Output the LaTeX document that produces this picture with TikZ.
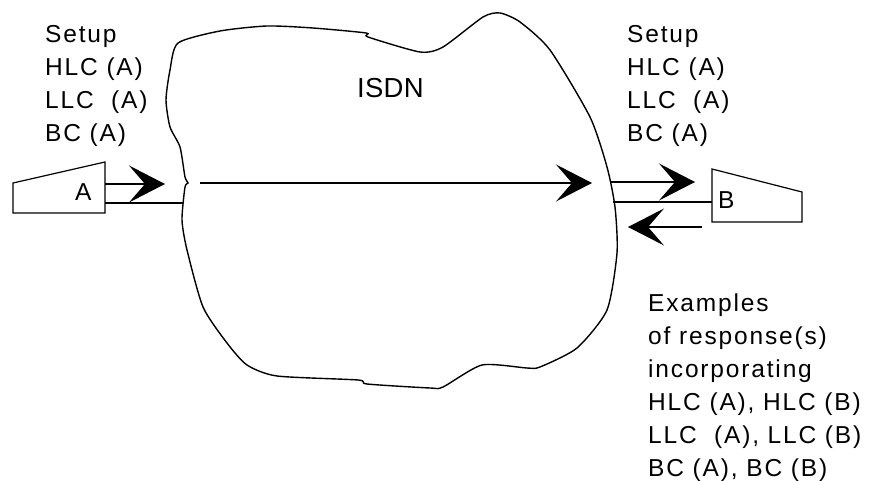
\documentclass[tikz,border=0pt]{standalone}
\usepackage{fontspec}
\setmainfont{Liberation Sans}[LetterSpace=7.5]
\usetikzlibrary{arrows.meta}

\tikzset{
  lbl/.style={font=\fontsize{24.5}{33}\selectfont, inner sep=0pt, align=left, anchor=north west},
  wire/.style={line width=1.2pt},
  arr/.style={wire, -{Stealth[length=36pt,width=37pt,inset=16pt]}}
}

\begin{document}
\begin{tikzpicture}[x=1pt, y=-1pt]
\useasboundingbox (0,0) rectangle (869,481);
% the network cloud
\draw[line width=1.4pt] plot[smooth cycle, tension=0.4] coordinates {
  (178,43) (220,31) (267,26) (313,28) (366,33) (368,37) (420,52) (443,47)
  (483,17) (500,13) (520,22) (550,50) (590,117) (607,167) (615,207) (617,253)
  (607,310) (577,348) (540,367) (527,368) (482,365) (443,387) (430,388)
  (367,384) (358,380) (277,376) (247,365) (227,343) (203,307) (187,250)
  (182,220) (185,187) (188,183) (185,177) (180,147) (170,127) (166,100) (170,70)};
\node[lbl, font=\fontsize{27.5}{33}\selectfont\addfontfeature{LetterSpace=1}] (isdn) at (357,78) {ISDN};

% terminals
\draw[wire] (13,183) -- (105,162) -- (105,213) -- (13,213) -- cycle;
\draw[wire] (712,169) -- (802,192) -- (802,222) -- (712,222) -- cycle;
\node[lbl] (termA) at (75,183) {A};
\node[lbl] (termB) at (718,191) {B};

\coordinate (aUp) at (105,184);
\coordinate (aLo) at (105,203);
\coordinate (aTip) at (165,184);
\coordinate (cloudL) at (183,203);
\coordinate (nIn) at (200,183);
\coordinate (nOut) at (592,183);
\coordinate (bFrom) at (610,182);
\coordinate (bTip) at (695,182);
\coordinate (cloudR) at (613,202);
\coordinate (bMid) at (712,202);
\coordinate (rFrom) at (702,227);
\coordinate (rTip) at (628,227);

\draw[arr] (aUp) -- (aTip);
\draw[wire] (aLo) -- (cloudL);
\draw[arr] (nIn) -- (nOut);
\draw[arr] (bFrom) -- (bTip);
\draw[wire] (cloudR) -- (bMid);
\draw[arr] (rFrom) -- (rTip);

% messages
\node[lbl] (setupA) at (45,25) {Setup\\HLC (A)\\LLC\ \ (A)\\BC (A)};
\node[lbl] (setupB) at (627,25) {Setup\\HLC (A)\\LLC\ \ (A)\\BC (A)};
\node[lbl] (resp) at (648,294) {Examples\\of response(s)\\incorporating\\HLC (A), HLC (B)\\LLC\ \ (A), LLC (B)\\BC (A), BC (B)};
\end{tikzpicture}
\end{document}
